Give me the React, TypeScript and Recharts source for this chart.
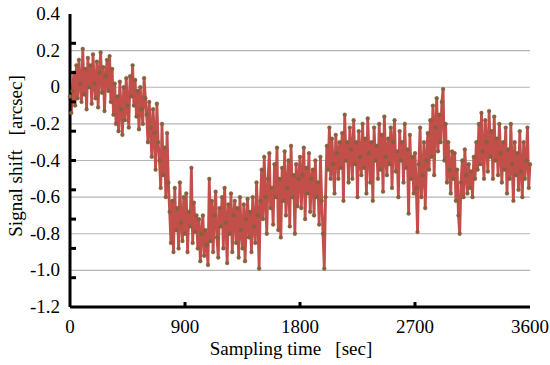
import { LineChart, Line, XAxis, YAxis, CartesianGrid } from 'recharts';

// sampled every 10 s, 0..3600
const sampleStep = 10;

const shift0to590 = [
  -0.05, -0.14, -0.02, 0.08, -0.1, 0.12, -0.06, 0.15, 0.02, -0.08,
  0.21, -0.04, 0.1, -0.12, 0.16, 0.0, 0.12, -0.09, 0.18, 0.02,
  -0.06, 0.14, -0.11, 0.08, 0.19, -0.03, 0.11, -0.13, 0.06, 0.15,
  -0.02, 0.17, -0.08, 0.1, -0.15, 0.02, -0.2, -0.05, -0.24, 0.03,
  -0.12, -0.26, 0.0, -0.18, 0.05, -0.1, -0.22, 0.06, -0.05, 0.12,
  -0.1, 0.04, -0.16, -0.02, -0.23, 0.0, -0.12, -0.2, 0.05, -0.06,
];
const shift600to1190 = [
  -0.15, -0.3, -0.08, -0.22, -0.38, -0.12, -0.25, -0.45, -0.09, -0.3,
  -0.4, -0.55, -0.2, -0.48, -0.33, -0.6, -0.25, -0.52, -0.68, -0.85,
  -0.62, -0.9, -0.55, -0.78, -0.66, -0.88, -0.52, -0.74, -0.84, -0.6,
  -0.8, -0.58, -0.9, -0.68, -0.76, -0.44, -0.85, -0.63, -0.79, -0.7,
  -0.88, -0.72, -0.95, -0.8, -0.7, -0.92, -0.78, -0.86, -0.97, -0.5,
  -0.84, -0.62, -0.9, -0.7, -0.57, -0.82, -0.93, -0.66, -0.76, -0.6,
];
const shift1200to1790 = [
  -0.88, -0.55, -0.74, -0.96, -0.64, -0.8, -0.58, -0.9, -0.7, -0.62,
  -0.85, -0.66, -0.93, -0.6, -0.78, -0.88, -0.64, -0.95, -0.72, -0.61,
  -0.82, -0.68, -0.9, -0.6, -0.76, -0.85, -0.52, -0.7, -0.99, -0.62,
  -0.45, -0.72, -0.38, -0.6, -0.8, -0.5, -0.36, -0.66, -0.55, -0.75,
  -0.42, -0.6, -0.33, -0.78, -0.5, -0.82, -0.44, -0.62, -0.35, -0.7,
  -0.55, -0.4, -0.76, -0.32, -0.6, -0.48, -0.8, -0.42, -0.65, -0.5,
];
const shift1800to2390 = [
  -0.38, -0.66, -0.48, -0.33, -0.72, -0.44, -0.58, -0.36, -0.68, -0.5,
  -0.45, -0.7, -0.4, -0.6, -0.52, -0.75, -0.38, -0.62, -0.8, -0.99,
  -0.6, -0.32, -0.45, -0.22, -0.5, -0.28, -0.42, -0.58, -0.26, -0.36,
  -0.5, -0.3, -0.44, -0.25, -0.62, -0.15, -0.4, -0.3, -0.52, -0.22,
  -0.34, -0.5, -0.18, -0.42, -0.3, -0.6, -0.24, -0.38, -0.48, -0.2,
  -0.44, -0.28, -0.58, -0.17, -0.36, -0.52, -0.3, -0.62, -0.22, -0.4,
];
const shift2400to2990 = [
  -0.32, -0.5, -0.2, -0.45, -0.26, -0.57, -0.16, -0.38, -0.48, -0.28,
  -0.42, -0.22, -0.55, -0.3, -0.18, -0.46, -0.35, -0.6, -0.24, -0.4,
  -0.3, -0.52, -0.2, -0.44, -0.34, -0.69, -0.26, -0.5, -0.38, -0.58,
  -0.36, -0.55, -0.79, -0.42, -0.22, -0.6, -0.48, -0.3, -0.66, -0.4,
  -0.25, -0.45, -0.18, -0.38, -0.1, -0.48, -0.22, -0.06, -0.35, -0.15,
  -0.3, -0.08, -0.01, -0.4, -0.2, -0.52, -0.3, -0.45, -0.58, -0.35,
];
const shift3000to3600 = [
  -0.5, -0.36, -0.62, -0.45, -0.7, -0.8, -0.52, -0.4, -0.6, -0.34,
  -0.48, -0.58, -0.42, -0.55, -0.46, -0.6, -0.38, -0.5, -0.3, -0.45,
  -0.2, -0.42, -0.14, -0.35, -0.5, -0.18, -0.3, -0.46, -0.13, -0.38,
  -0.24, -0.5, -0.16, -0.4, -0.28, -0.48, -0.2, -0.36, -0.52, -0.3,
  -0.45, -0.22, -0.58, -0.34, -0.5, -0.2, -0.42, -0.62, -0.3, -0.48,
  -0.36, -0.56, -0.24, -0.46, -0.6, -0.3, -0.5, -0.4, -0.22, -0.55,
  -0.42,
];

const xTicks = [0, 900, 1800, 2700, 3600];
const yLabels = [0.4, 0.2, 0, -0.2, -0.4, -0.6, -0.8, -1.0, -1.2];
const yGrid = [0.2, 0, -0.2, -0.4, -0.6, -0.8, -1.0];
// the frame carries ten minor ticks that do not line up with the labels
const yMinor = [0.24, 0.08, -0.08, -0.24, -0.4, -0.56, -0.72, -0.88, -1.04];

const signal = [
  ...shift0to590, ...shift600to1190, ...shift1200to1790,
  ...shift1800to2390, ...shift2400to2990, ...shift3000to3600,
];
const data = signal.map((v, i) => ({ t: i * sampleStep, shift: v }));

const FONT = '"Liberation Serif", "Times New Roman", serif';
const textStyle = { fontFamily: FONT, fontSize: 19 };
const leftTicks = Array.from(new Set([...yLabels, ...yMinor]));

const fmtY = (v: number) => (v === 0 ? '0' : v.toFixed(1));

const LeftTick = (props: any) => {
  const { x, y, payload } = props;
  const v = payload.value;
  return (
    <g>
      {yLabels.includes(v) && (
        <text x={x} y={y} dy={6} textAnchor="end" style={textStyle} fill="#000">
          {fmtY(v)}
        </text>
      )}
      {yMinor.includes(v) && <line x1={x + 10} x2={x + 16} y1={y} y2={y} stroke="#000" strokeWidth={3} />}
    </g>
  );
};

const RightTick = (props: any) => {
  const { x, y } = props;
  return <line x1={x - 6} x2={x} y1={y} y2={y} stroke="#000" strokeWidth={3} />;
};

const BottomTick = (props: any) => {
  const { x, y, payload } = props;
  const v = payload.value;
  return (
    <g>
      <text x={x} y={y} dy="0.72em" textAnchor="middle" style={textStyle} fill="#000">
        {v}
      </text>
      {v > 0 && v < 3600 && <line x1={x} x2={x} y1={y - 12} y2={y - 17} stroke="#000" strokeWidth={3} />}
    </g>
  );
};

const TopTick = (props: any) => {
  const { x, y, payload } = props;
  const v = payload.value;
  if (v <= 0 || v >= 3600) return <g />;
  return <line x1={x} x2={x} y1={y} y2={y + 5} stroke="#000" strokeWidth={3} />;
};

export default function App() {
  return (
    <div style={{ position: 'absolute', left: 0, top: 0, width: 550, height: 365, background: '#fff' }}>
      <LineChart width={550} height={365} data={data} margin={{ top: 14, right: 20, bottom: 0, left: 0 }}>
        <CartesianGrid horizontal vertical={false} horizontalValues={yGrid} stroke="#b4b4b4" strokeWidth={1.2} />
        <XAxis
          dataKey="t"
          type="number"
          domain={[0, 3600]}
          ticks={xTicks}
          height={58}
          tickSize={0}
          tickMargin={12}
          tickLine={false}
          axisLine={{ stroke: '#000', strokeWidth: 3 }}
          tick={<BottomTick />}
          label={() => (
            <text x={291} y={355} textAnchor="middle" style={textStyle} fill="#000">
              {'Sampling time\u00a0\u00a0\u00a0[sec]'}
            </text>
          )}
        />
        <XAxis
          xAxisId="top"
          orientation="top"
          dataKey="t"
          type="number"
          domain={[0, 3600]}
          ticks={xTicks}
          height={0}
          tickSize={0}
          tickMargin={0}
          tickLine={false}
          axisLine={{ stroke: '#000', strokeWidth: 3 }}
          tick={<TopTick />}
        />
        <YAxis
          type="number"
          domain={[-1.2, 0.4]}
          ticks={leftTicks}
          width={70}
          tickSize={0}
          tickMargin={10}
          tickLine={false}
          axisLine={{ stroke: '#000', strokeWidth: 3 }}
          tick={<LeftTick />}
          interval={0}
          label={() => (
            <text
              x={22}
              y={156}
              transform="rotate(-90, 22, 156)"
              textAnchor="middle"
              style={textStyle}
              fill="#000"
            >
              {'Signal shift\u00a0\u00a0\u00a0[arcsec]'}
            </text>
          )}
        />
        <YAxis
          yAxisId="right"
          orientation="right"
          type="number"
          domain={[-1.2, 0.4]}
          ticks={yMinor}
          width={0}
          tickSize={0}
          tickMargin={0}
          tickLine={false}
          interval={0}
          axisLine={{ stroke: '#000', strokeWidth: 3 }}
          tick={<RightTick />}
        />
        <Line
          type="linear"
          dataKey="shift"
          stroke="#c24f4a"
          strokeWidth={2.8}
          strokeLinejoin="round"
          dot={{ r: 1.9, fill: '#86613c', stroke: '#86613c', strokeWidth: 0.4 }}
          isAnimationActive={false}
        />
      </LineChart>
    </div>
  );
}
